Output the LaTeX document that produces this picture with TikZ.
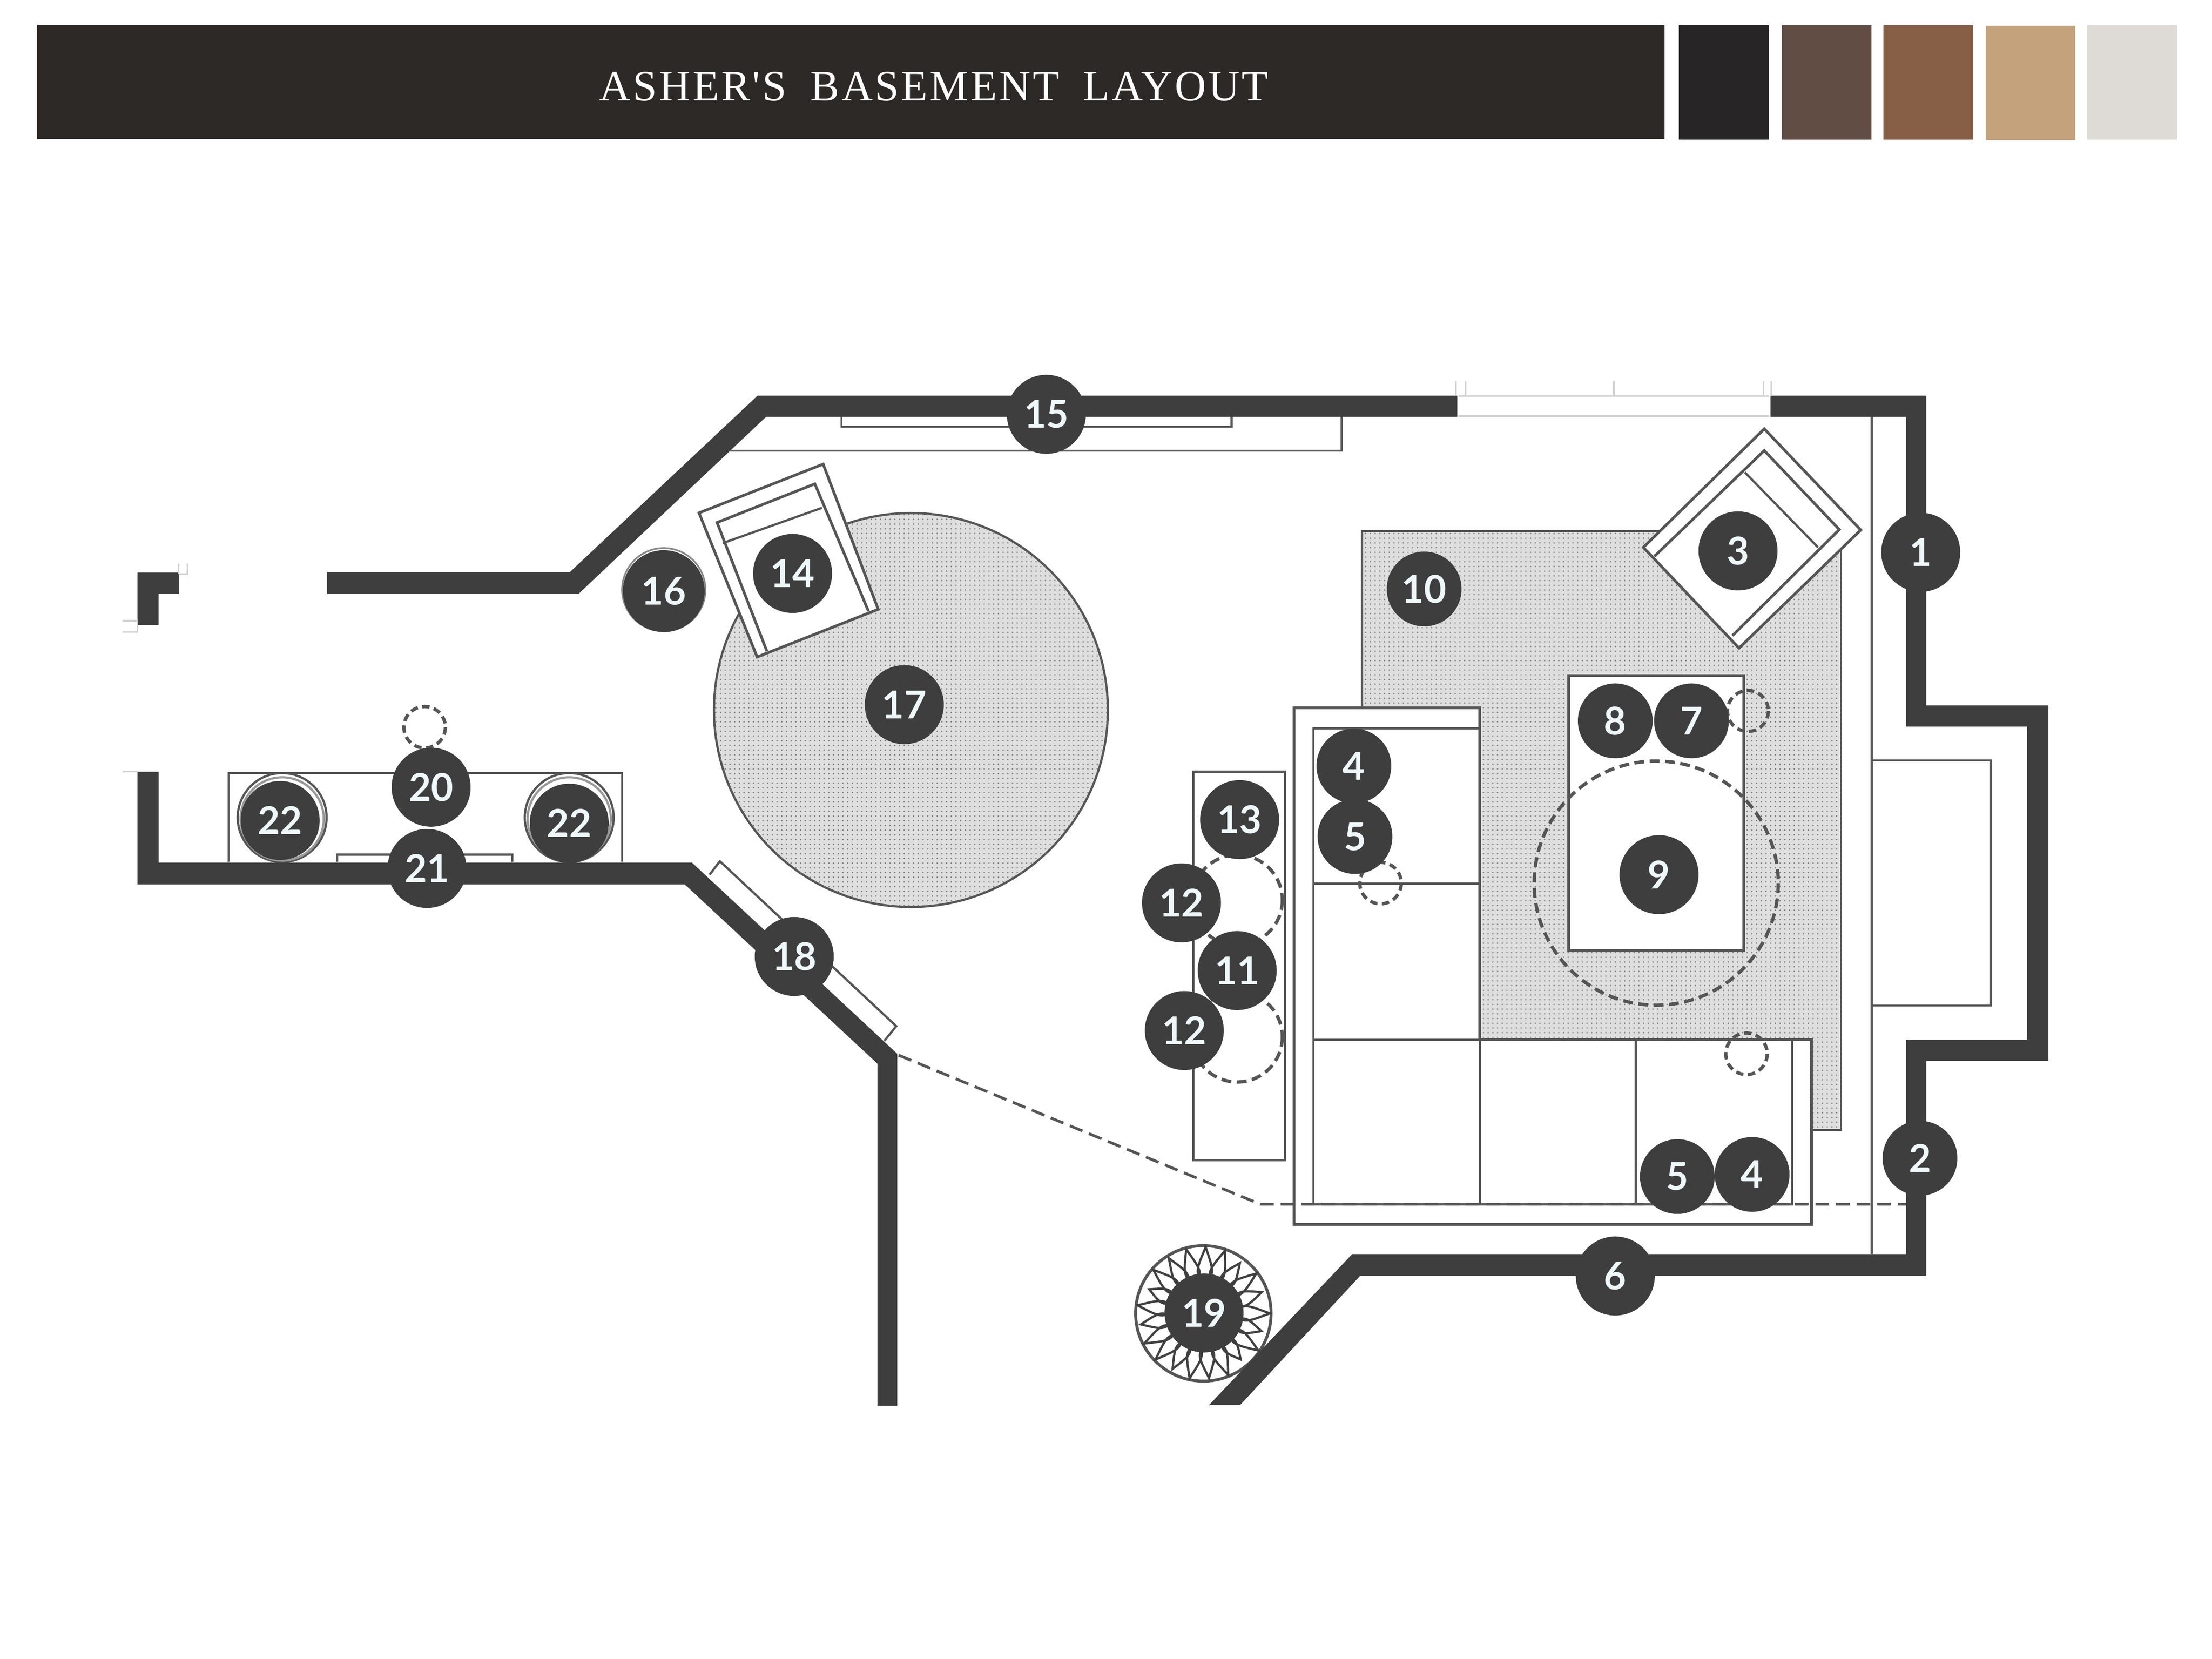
\documentclass[tikz,border=0pt]{standalone}
\usepackage{fontspec}
\setmainfont{Liberation Serif}
\newfontfamily\badgefont{Lato}
\usetikzlibrary{patterns.meta}
\definecolor{BarClr}{HTML}{2D2926}
\definecolor{SwatchAClr}{HTML}{272525}
\definecolor{SwatchBClr}{HTML}{614D43}
\definecolor{SwatchCClr}{HTML}{875F46}
\definecolor{SwatchDClr}{HTML}{C4A27C}
\definecolor{SwatchEClr}{HTML}{DEDBD6}
\definecolor{WallClr}{HTML}{3D3E3D}
\definecolor{LineClr}{HTML}{555555}
\definecolor{RugClr}{HTML}{DEDEDE}
\definecolor{DotClr}{HTML}{7A7A7A}
\definecolor{DigitClr}{HTML}{EEF8FB}
\tikzset{
  wall/.style={fill=WallClr,draw=none},
  furn/.style={draw=LineClr,line width=1.1pt,fill=white,line join=miter},
  thinline/.style={draw=LineClr,line width=.9pt},
  faint/.style={draw=black!18,line width=.6pt},
  rug/.style={draw=LineClr,line width=.9pt,fill=RugClr,postaction={pattern={Dots[radius=.32pt,distance=1.9pt]},pattern color=DotClr}},
  dashcirc/.style={draw=LineClr,line width=1.35pt,dash pattern=on 4pt off 2.2pt},
  swatch/.style={draw=none,minimum height=1.62cm,minimum width=1.27cm,inner sep=0pt,anchor=north west},
  badge/.style={circle,fill=WallClr,minimum size=1.12cm,inner sep=0pt,text=DigitClr,font=\badgefont\bfseries\fontsize{15.5}{17}\selectfont},
  badgesmall/.style={badge,minimum size=1.06cm}
}

\begin{document}
\begin{tikzpicture}[x=.02cm,y=-.02cm]
\useasboundingbox (0,0) rectangle (1568,1176);

% header
\fill[BarClr] (26,17.5) rectangle (1180,98.5);
\node[swatch,fill=SwatchAClr] (swA) at (1189.8,17.5) {};
\node[swatch,fill=SwatchBClr] (swB) at (1262.7,17.5) {};
\node[swatch,fill=SwatchCClr] (swC) at (1334.8,17.5) {};
\node[swatch,fill=SwatchDClr] (swD) at (1407.2,18) {};
\node[swatch,fill=SwatchEClr] (swE) at (1479.2,17.5) {};
\node[text=white,inner sep=0pt,anchor=base] (title) at (662,71.3)
  {\fontspec{Liberation Serif}[LetterSpace=5]\fontsize{17.5}{20}\selectfont ASHER'S\hspace{.55em}BASEMENT\hspace{.55em}LAYOUT};

% rugs
\path[rug] (965.5,376.5) rectangle (1305,801);
\path[rug] (645.7,503.3) circle (139.6);

% built ins
\draw[thinline] (596.5,295) -- (596.5,302.5) -- (873,302.5) -- (873,295);
\draw[thinline] (517,319.5) -- (951,319.5) -- (951,295);
\draw[thinline] (1326.7,295) -- (1326.7,889);
\draw[thinline] (1326.7,539) -- (1411,539) -- (1411,712.8) -- (1326.7,712.8);

% tv stand and console
\draw[furn,line width=.9pt] (162,611) -- (162,548) -- (441,548) -- (441,611);
\draw[furn,line width=.9pt] (239,611) -- (239,605.7) -- (363,605.7) -- (363,611);
\draw[furn,line width=.9pt] (200,579.5) circle (31.5);
\draw[furn,line width=.9pt] (403.5,579.5) circle (31.5);
\draw[furn,line width=.9pt,draw=LineClr!60] (200,580.5) circle (29.5);
\draw[furn,line width=.9pt,draw=LineClr!60] (403.5,580.5) circle (29.5);
\draw[furn,line width=.9pt] (503,620) -- (510.3,610.5) -- (635.3,727.4) -- (627,737.7);

% accent chair by the round rug
\draw[furn] (583.5,329) -- (495.5,363.6) -- (536.7,465.7) -- (622.5,431.9) -- cycle;
\draw[furn] (543.6,461.6) -- (508.3,370.4) -- (577.6,343) -- (615.6,433.2);
\draw[thinline] (512.4,385) -- (582.6,360);

% accent chair on the big rug
\draw[furn] (1250.6,304) -- (1319,375.7) -- (1232.7,459.4) -- (1164.9,388) -- cycle;
\draw[furn] (1172.7,394.4) -- (1250.6,319.4) -- (1303.8,375.4) -- (1228,450.6);
\draw[thinline] (1236.8,334.8) -- (1288.7,388);

% console behind the sofa
\draw[furn,line width=.9pt] (846,547) rectangle (911,822.4);
\draw[dashcirc] (877,638) circle (32);
\draw[dashcirc] (877,735) circle (32);

% sectional
\draw[furn] (917.3,501.7) -- (1049,501.7) -- (1049,737) -- (1284,737) -- (1284,868) -- (917.3,868) -- cycle;
\draw[thinline] (1049,516.3) -- (931,516.3) -- (931,853.6) -- (1270.3,853.6) -- (1270.3,737);
\draw[thinline] (931,626.5) -- (1049,626.5);
\draw[thinline] (931,737) -- (1049,737);
\draw[thinline] (1049,737) -- (1049,853.6);
\draw[thinline] (1159.4,737) -- (1159.4,853.6);

% coffee table and side tables
\draw[furn] (1112,479) rectangle (1236,673.8);
\draw[dashcirc] (1174,626) circle (86.5);
\draw[dashcirc,dash pattern=on 3pt off 1.8pt] (1239,504) circle (14.5);
\draw[dashcirc,dash pattern=on 3pt off 1.8pt] (978.6,626) circle (14.7);
\draw[dashcirc,dash pattern=on 3pt off 1.8pt] (1238,747) circle (14.7);
\draw[dashcirc,dash pattern=on 3pt off 1.8pt] (301,515.5) circle (14.7);

% walkway
\draw[draw=LineClr,line width=1.1pt,dash pattern=on 5.5pt off 2.8pt] (637,748) -- (893.4,853.6) -- (1351,853.6);

% planter
\draw[draw=LineClr,line width=1.2pt] (853,931) circle (48);
\begin{scope}[shift={(853,931)}]
\foreach \ang/\tip in {0/47,17/43,34/47,51/42,68/47,85/46,102/47,119/45,136/47,153/47,170/45,187/47,204/42,221/47,238/46,255/47,272/47,289/47,306/44,323/47,340/44}
  \draw[black!75,line width=.9pt,line join=miter] (\ang:20) .. controls (\ang+13:30) .. (\ang:\tip) .. controls (\ang-13:30) .. (\ang:20);
\end{scope}

% walls
\fill[wall] (232,405.5) -- (404,405.5) -- (537,280.5) -- (1033,280.5) -- (1033,295.5)
  -- (543,295.5) -- (410,421) -- (232,421) -- cycle;
\fill[wall] (1255,280.5) -- (1365.5,280.5) -- (1365.5,500) -- (1452,500) -- (1452,752)
  -- (1365.5,752) -- (1365.5,904.5) -- (964,904.5) -- (879,996) -- (857,996) -- (958.5,889)
  -- (1351,889) -- (1351,737) -- (1437,737) -- (1437,515) -- (1351,515) -- (1351,295.5)
  -- (1255,295.5) -- cycle;
\fill[wall] (97.5,547) -- (112.5,547) -- (112.5,611.5) -- (490.5,611.5) -- (636,747)
  -- (636,996.5) -- (622,996.5) -- (622,754) -- (485.5,627) -- (97.5,627) -- cycle;
\fill[wall] (97.5,405.8) -- (127,405.8) -- (127,421) -- (112.4,421) -- (112.4,443) -- (97.5,443) -- cycle;

% window and door stubs
\draw[faint] (1034,280.7) -- (1254,280.7);
\draw[faint] (1034,295) -- (1254,295);
\draw[faint] (1032,270) -- (1032,280.7);
\draw[faint] (1039,270) -- (1039,280.7);
\draw[faint] (1144,270) -- (1144,280.7);
\draw[faint] (1250,270) -- (1250,280.7);
\draw[faint] (1255.5,270) -- (1255.5,280.7);
\draw[faint] (87,440) -- (97.5,440) -- (97.5,448) -- (87,448);
\draw[faint] (126.5,399.5) -- (126.5,407);
\draw[faint] (132.7,399.5) -- (132.7,407) -- (127,407);
\draw[faint] (87,547) -- (97.5,547);

% numbered markers
\node[badge] (n1) at (1361.5,391.5) {1};
\node[badgesmall] (n2) at (1361,821) {2};
\node[badge] (n3) at (1232,390.5) {3};
\node[badgesmall] (n4a) at (959.7,543) {4};
\node[badgesmall] (n5a) at (960.5,593) {5};
\node[badgesmall] (n5b) at (1189,834) {5};
\node[badgesmall] (n4b) at (1242,832.5) {4};
\node[badge] (n6) at (1145,904.5) {6};
\node[badgesmall] (n7) at (1199,511) {7};
\node[badgesmall] (n8) at (1145,511) {8};
\node[badge] (n9) at (1176,620) {9};
\node[badgesmall] (n10) at (1009.5,417.5) {10};
\node[badge] (n11) at (877,688) {11};
\node[badge] (n12a) at (837.5,640) {12};
\node[badge] (n12b) at (839.5,730.5) {12};
\node[badge] (n13) at (878.7,581) {13};
\node[badge] (n14) at (561.8,406.5) {14};
\node[badge] (n15) at (741.7,293.7) {15};
\draw[draw=LineClr!70,line width=.7pt] (470.5,418) circle (29.5);
\node[badge,minimum size=1.16cm] (n16) at (470.5,419) {16};
\node[badge] (n17) at (641,499.5) {17};
\node[badge] (n18) at (563,678) {18};
\node[badge] (n19) at (853.5,930.7) {19};
\node[badge] (n20) at (305.6,558) {20};
\node[badge] (n21) at (302.7,615.6) {21};
\node[badge] (n22a) at (198.6,581.6) {22};
\node[badge] (n22b) at (403.5,583.5) {22};

\end{tikzpicture}
\end{document}
